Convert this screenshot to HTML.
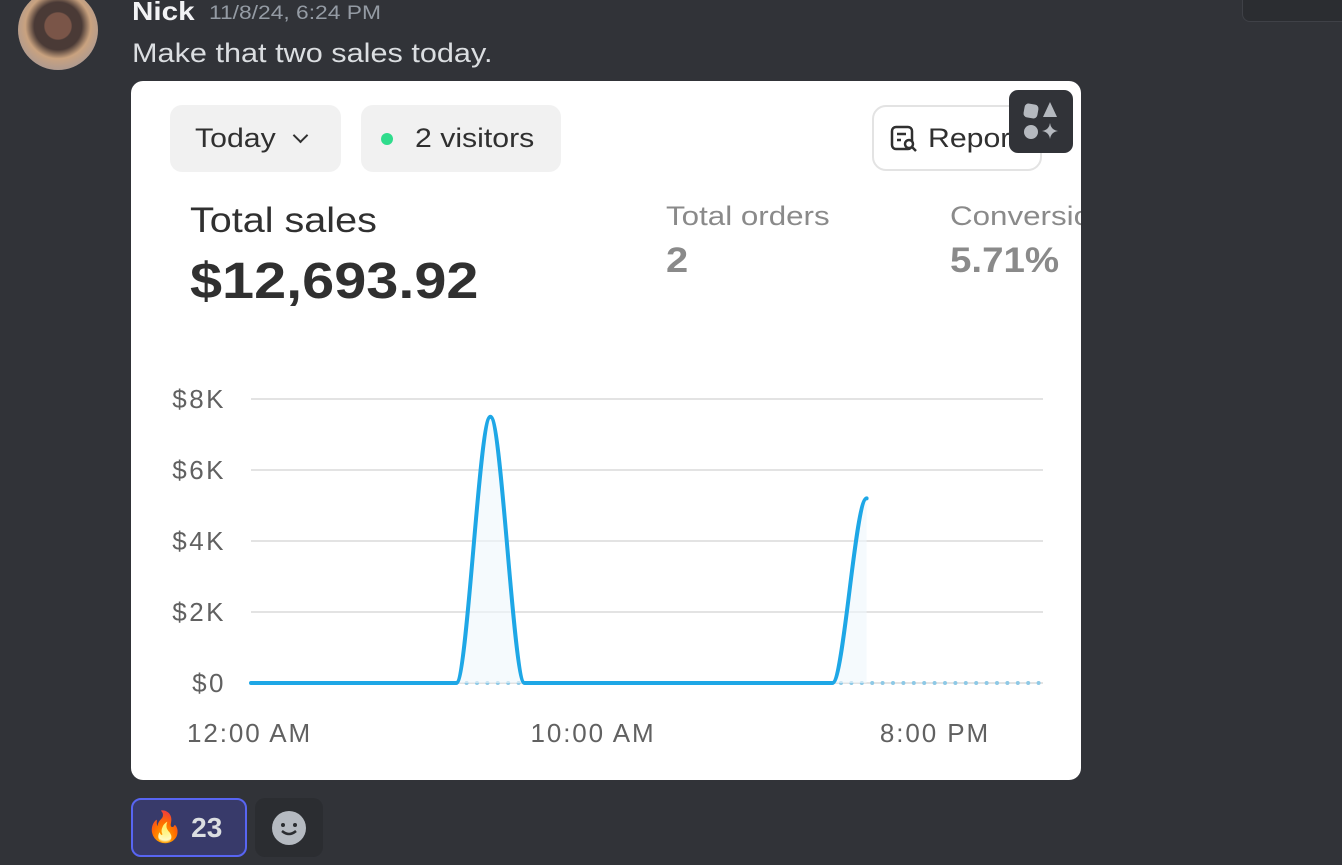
<!DOCTYPE html>
<html><head><meta charset="utf-8"><style>
body{margin:0;width:1342px;height:865px;background:#313338;position:relative;overflow:hidden;font-family:"Liberation Sans",sans-serif}
.abs{position:absolute}
.w{transform-origin:0 50%;transform:scaleX(1.14);white-space:nowrap}
.in{display:inline-block;transform-origin:0 50%;transform:scaleX(1.12)}
</style></head><body>
<div class="abs" style="left:18px;top:-10px;width:80px;height:80px;border-radius:50%;background:radial-gradient(circle at 50% 45%,#7a5548 0 22%,#4a3a36 24% 40%,#c9a27f 55%,#8a8fa6 100%)"></div>
<div class="abs w" style="left:132px;top:-4px;font-size:26px;color:#f2f3f5;font-weight:600">Nick</div>
<div class="abs w" style="left:209px;top:3px;font-size:19px;color:#949ba4;transform:scaleX(1.2)">11/8/24, 6:24 PM</div>
<div class="abs w" style="left:132px;top:38px;font-size:27px;color:#dbdee1;transform:scaleX(1.135)">Make that two sales today.</div>
<div class="abs" style="left:1242px;top:-20px;width:120px;height:40px;border:1px solid #3f4147;border-radius:8px;background:#2b2d31"></div>

<div class="abs" style="left:131px;top:81px;width:950px;height:699px;background:#fff;border-radius:12px;overflow:hidden">
  <div class="abs" style="left:39px;top:24px;width:171px;height:67px;background:#f1f1f1;border-radius:12px;font-size:27px;color:#303030;line-height:67px;padding-left:25px;box-sizing:border-box"><span class="in">Today</span> <span style="display:inline-block;width:9px;height:9px;border-right:2.5px solid #303030;border-bottom:2.5px solid #303030;transform:rotate(45deg);margin-left:20px;position:relative;top:-6px"></span></div>
  <div class="abs" style="left:230px;top:24px;width:200px;height:67px;background:#f1f1f1;border-radius:12px;font-size:27px;color:#303030;line-height:67px;padding-left:54px;box-sizing:border-box"><span class="abs" style="left:20px;top:28px;width:12px;height:12px;border-radius:50%;background:#2fdc8c"></span><span class="in">2 visitors</span></div>
  <div class="abs" style="left:741px;top:24px;width:170px;height:66px;border:2px solid #e3e3e3;border-radius:14px;box-sizing:border-box;font-size:27px;color:#303030;line-height:62px;padding-left:54px"><span class="in">Reports</span>
    <svg class="abs" style="left:16px;top:18px" width="28" height="28" viewBox="0 0 28 28"><rect x="2" y="2" width="20" height="22" rx="4" fill="none" stroke="#303030" stroke-width="2.5"/><line x1="7" y1="9" x2="16" y2="9" stroke="#303030" stroke-width="2.5"/><line x1="7" y1="15" x2="11" y2="15" stroke="#303030" stroke-width="2.5"/><circle cx="19" cy="19" r="4" fill="#fff" stroke="#303030" stroke-width="2.5"/><line x1="22" y1="22" x2="26" y2="26" stroke="#303030" stroke-width="2.5"/></svg>
  </div>
  <div class="abs" style="left:878px;top:9px;width:64px;height:63px;background:#313338;border-radius:9px">
    <svg width="64" height="63"><rect x="15" y="14" width="14" height="14" rx="4" fill="#b5b9bf" transform="rotate(10 22 21)"/><polygon points="41,12 48,27 34,27" fill="#b5b9bf"/><circle cx="22" cy="42" r="7" fill="#b5b9bf"/><path d="M41 33 Q42 40 49 41 Q42 42 41 49 Q40 42 33 41 Q40 40 41 33Z" fill="#b5b9bf"/></svg>
  </div>
  <div class="abs w" style="left:59px;top:120px;font-size:35px;color:#303030;transform:scaleX(1.13)">Total sales</div>
  <div class="abs w" style="left:59px;top:170px;font-size:51px;font-weight:700;color:#303030;transform:scaleX(1.13)">$12,693.92</div>
  <div class="abs w" style="left:535px;top:120px;font-size:27px;color:#8a8a8a;transform:scaleX(1.16)">Total orders</div>
  <div class="abs w" style="left:535px;top:160px;font-size:35px;font-weight:700;color:#8a8a8a">2</div>
  <div class="abs w" style="left:819px;top:120px;font-size:27px;color:#8a8a8a;transform:scaleX(1.16)">Conversion rate</div>
  <div class="abs w" style="left:819px;top:160px;font-size:35px;font-weight:700;color:#8a8a8a;transform:scaleX(1.1)">5.71%</div>
</div>
<svg id="chart" class="abs" style="left:0;top:0" width="1342" height="865"></svg>

<div class="abs" style="left:131px;top:798px;width:116px;height:59px;box-sizing:border-box;border:2px solid #5865f2;border-radius:10px;background:#383a6a;color:#dbdee1;font-size:28px;font-weight:700;line-height:55px;padding-left:13px"><span style="font-size:30px">🔥</span> 23</div>
<div class="abs" style="left:255px;top:798px;width:68px;height:59px;border-radius:10px;background:#2b2d31">
  <svg width="68" height="59"><circle cx="34" cy="30" r="17" fill="#b5bac1"/><circle cx="28" cy="27" r="2" fill="#2b2d31"/><circle cx="40" cy="27" r="2" fill="#2b2d31"/><path d="M27 33 Q34 39 41 33" stroke="#2b2d31" stroke-width="2.5" fill="none"/></svg>
</div>
<script>
const hours=[0,1,2,3,4,5,6,7,8,9,10,11,12,13,14,15,16,17,18];
const sales=[0,0,0,0,0,0,0,7500,0,0,0,0,0,0,0,0,0,0,5200];
const compHours=[6,7,8,9,10,11,12,13,14,15,16,17,18,19,20,21,22,23];
const yTicks=[0,2000,4000,6000,8000];
const yLabels=["$0","$2K","$4K","$6K","$8K"];
const xTicks=[0,10,20];
const xLabels=["12:00 AM","10:00 AM","8:00 PM"];
const NS="http://www.w3.org/2000/svg";
const svg=document.getElementById('chart');
const X=h=>251+h*34.2, Y=v=>683-v*(284/8000);
function el(t,a){const e=document.createElementNS(NS,t);for(const k in a)e.setAttribute(k,a[k]);svg.appendChild(e);return e;}
yTicks.forEach((v,i)=>{
 const g=el('line',{x1:251,x2:1043,y1:Y(v),y2:Y(v),stroke:'#e3e3e3','stroke-width':2});
 
 
 const t=el('text',{x:226,y:Y(v)+9,'text-anchor':'end','font-size':26,fill:'#616161','font-family':'Liberation Sans, sans-serif','letter-spacing':2.5});
 t.textContent=yLabels[i];
 
 
});
xTicks.forEach((h,i)=>{
 const t=el('text',{x:X(h),y:742,'text-anchor':i==0?'start':'middle','font-size':26,fill:'#616161','font-family':'Liberation Sans, sans-serif','letter-spacing':1.9});
 if(i==0)t.setAttribute('x',187);
 t.textContent=xLabels[i];
 
 
});
const cd=el('line',{x1:X(compHours[0]),x2:X(compHours[compHours.length-1])+2,y1:Y(0),y2:Y(0),stroke:'#8ec9e6','stroke-width':4,'stroke-linecap':'round','stroke-dasharray':'0 10.4'});


const pts=hours.map((h,i)=>[X(h),Y(sales[i])]);
let d='M'+pts[0][0]+','+pts[0][1];
for(let i=0;i<pts.length-1;i++){
 const p0=pts[i],p1=pts[i+1],dx=(p1[0]-p0[0])/3;
 d+=` C${p0[0]+dx},${p0[1]} ${p1[0]-dx},${p1[1]} ${p1[0]},${p1[1]}`;
}
const area=el('path',{d:d+` L${pts[pts.length-1][0]},${Y(0)} L${pts[0][0]},${Y(0)}Z`,fill:'#eef6fb',opacity:0.6});


const line=el('path',{d:d,fill:'none',stroke:'#1ea7e6','stroke-width':4,'stroke-linecap':'round','stroke-linejoin':'round'});


</script>
</body></html>
